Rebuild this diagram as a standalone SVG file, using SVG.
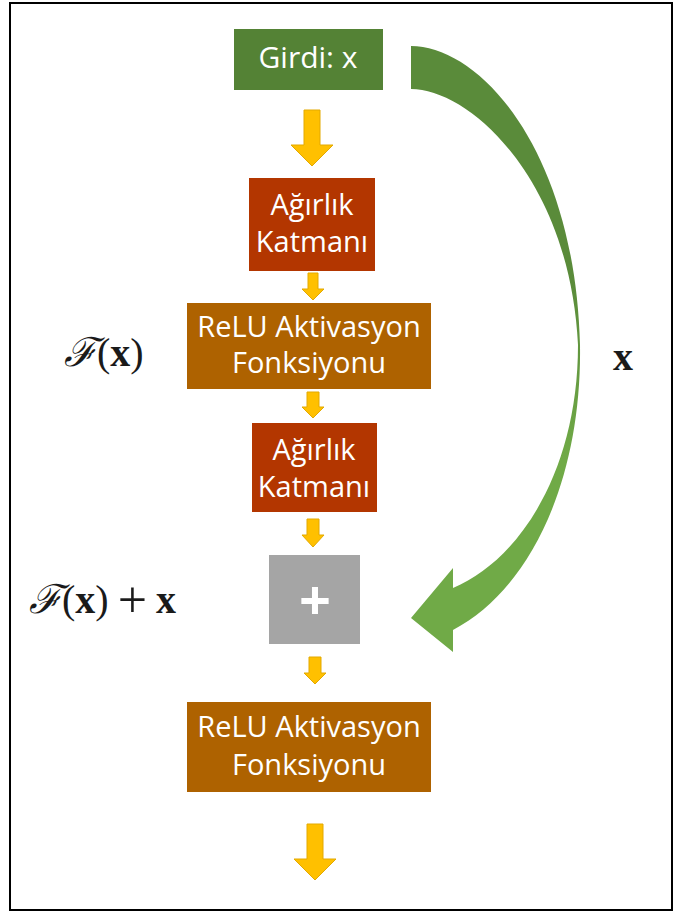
<svg xmlns="http://www.w3.org/2000/svg" width="676" height="912" viewBox="0 0 676 912">
<defs>
<style>
.lbl{font-family:"Open Sans","Noto Sans","Liberation Sans",sans-serif;font-size:29px;fill:#ffffff;text-anchor:middle}
.math{font-family:"Liberation Serif","DejaVu Serif",serif;font-size:40px;fill:#1a1a1a}
.yarrow{fill:#FFC000;stroke:#E3A900;stroke-width:1}
</style>
<linearGradient id="gskip" x1="0" y1="280" x2="0" y2="460" gradientUnits="userSpaceOnUse">
<stop offset="0" stop-color="#5A8B3A"/>
<stop offset="1" stop-color="#70AA47"/>
</linearGradient>
</defs>
<rect x="0" y="0" width="676" height="912" fill="#ffffff"/>
<rect x="10" y="3" width="662" height="907" fill="none" stroke="#000000" stroke-width="2"/>

<g id="connectors">
<polygon class="yarrow" points="304,110 320,110 320,145 333,145 312,166 291,145 304,145"/>
<polygon class="yarrow" points="308,273 318,273 318,289 324,289 313,300 302,289 308,289"/>
<polygon class="yarrow" points="307,392 319,392 319,407 324,407 313,418 302,407 307,407"/>
<polygon class="yarrow" points="307,519 319,519 319,535 324,535 313,547 302,535 307,535"/>
<polygon class="yarrow" points="309,657 321,657 321,673 326,673 315,684 304,673 309,673"/>
<polygon class="yarrow" points="307,824 323,824 323,859 336,859 315,880 294,859 307,859"/>
<path id="skip" d="M411,46 C480,46 575,150 580,345 C582,480 530,590 453,630 L453,652 L411,618 L453,568 L453,588 C520,560 578,470 578,345 C570,180 470,89 411,89 Z" fill="url(#gskip)"/>
</g>

<g id="input">
<rect x="234" y="29" width="149" height="61" fill="#548235"/>
<text class="lbl" x="308" y="68" style="font-size:30px">Girdi: x</text>
</g>
<g id="weight1">
<rect x="249" y="178" width="126" height="93" fill="#B33600"/>
<text class="lbl" x="312" y="215">Ağırlık</text>
<text class="lbl" x="312" y="252">Katmanı</text>
</g>
<g id="relu1">
<rect x="187" y="303" width="244" height="86" fill="#AE6200"/>
<text class="lbl" x="309" y="337">ReLU Aktivasyon</text>
<text class="lbl" x="309" y="373">Fonksiyonu</text>
</g>
<g id="weight2">
<rect x="252" y="423" width="125" height="89" fill="#B33600"/>
<text class="lbl" x="314" y="460">Ağırlık</text>
<text class="lbl" x="314" y="497">Katmanı</text>
</g>
<g id="add">
<rect x="269" y="555" width="91" height="89" fill="#A5A5A5"/>
<text x="315" y="620" style="font-family:'Open Sans','Liberation Sans',sans-serif;font-size:56px;font-weight:700;fill:#ffffff;text-anchor:middle">+</text>
</g>
<g id="relu2">
<rect x="187" y="702" width="244" height="90" fill="#AE6200"/>
<text class="lbl" x="309" y="737">ReLU Aktivasyon</text>
<text class="lbl" x="309" y="775">Fonksiyonu</text>
</g>

<g id="labels">
<text class="math" x="64" y="366"><tspan font-style="italic">ℱ</tspan>(<tspan font-weight="bold">x</tspan>)</text>
<text class="math" x="29" y="613"><tspan font-style="italic">ℱ</tspan>(<tspan font-weight="bold">x</tspan>)<tspan dx="9" dy="4" font-size="52">+</tspan><tspan dx="9" dy="-4" font-weight="bold">x</tspan></text>
<text class="math" x="613" y="370" font-weight="bold" font-size="44">x</text>
</g>
</svg>
